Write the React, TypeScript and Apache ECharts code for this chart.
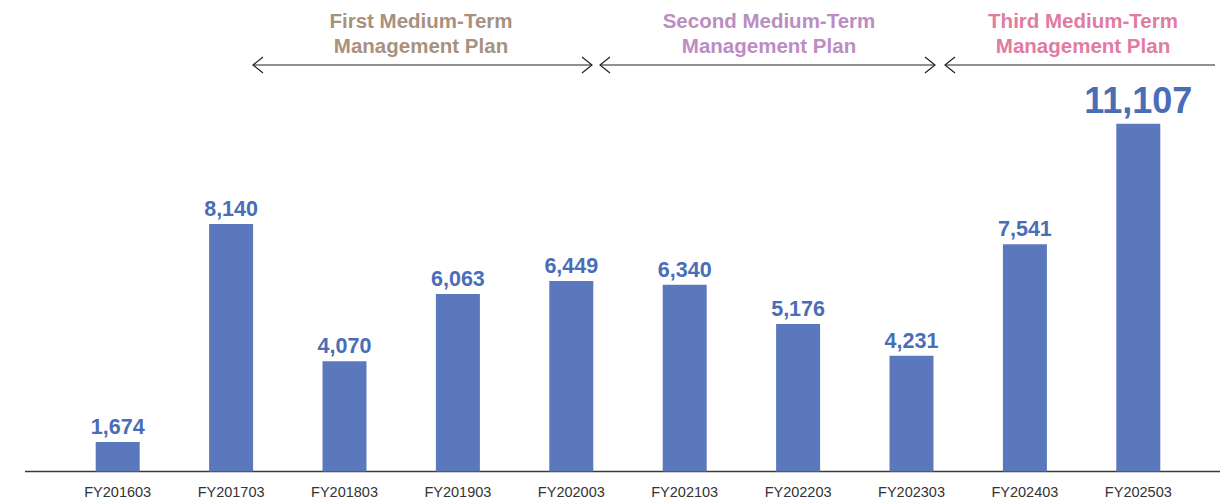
import React, { useEffect, useRef } from "react";
import * as echarts from "echarts";

const categories = ["FY201603", "FY201703", "FY201803", "FY201903", "FY202003", "FY202103", "FY202203", "FY202303", "FY202403", "FY202503"];
const values = [1674, 8140, 4070, 6063, 6449, 6340, 5176, 4231, 7541, 11107];
const planNames = ["First Medium-Term\nManagement Plan", "Second Medium-Term\nManagement Plan", "Third Medium-Term\nManagement Plan"];
const planColors = ["#a8917d", "#bb8dc2", "#e07ba2"];

const FONT = "'Liberation Sans', Arial, Helvetica, sans-serif";

function arrow(x1: number, x2: number, y: number, leftHead: boolean, rightHead: boolean) {
  const els: any[] = [
    { type: "line", shape: { x1, y1: y, x2, y2: y }, style: { stroke: "#222", lineWidth: 1.2 } },
  ];
  if (leftHead)
    els.push({ type: "polyline", shape: { points: [[x1 + 10, y - 8], [x1, y], [x1 + 10, y + 8]] }, style: { stroke: "#222", lineWidth: 1.2, fill: "none" } });
  if (rightHead)
    els.push({ type: "polyline", shape: { points: [[x2 - 10, y - 8], [x2, y], [x2 - 10, y + 8]] }, style: { stroke: "#222", lineWidth: 1.2, fill: "none" } });
  return els;
}

export default function App() {
  const ref = useRef<HTMLDivElement>(null);
  useEffect(() => {
    if (!ref.current) return;
    const chart = echarts.init(ref.current, undefined, { renderer: "svg" });
    const last = values.length - 1;
    const planCenters = [421, 769, 1083];
    chart.setOption({
      animation: false,
      grid: { left: 61, right: 33, top: 60, bottom: 28.5 },
      xAxis: {
        type: "category",
        data: categories,
        axisLine: { show: false },
        axisTick: { show: false },
        axisLabel: { color: "#333", fontSize: 14.5, fontFamily: FONT, margin: 13 },
      },
      yAxis: { type: "value", min: 800, max: 13000, show: false, splitLine: { show: false } },
      series: [
        {
          type: "bar",
          barWidth: 44,
          data: values.map((v, i) =>
            i === last ? { value: v, label: { fontSize: 36, distance: 5 } } : v
          ),
          itemStyle: { color: "#5b78bd" },
          label: {
            show: true,
            position: "top",
            distance: 4,
            color: "#4a6db8",
            fontWeight: "bold",
            fontSize: 21.5,
            fontFamily: FONT,
            formatter: (p: any) => Number(p.value).toLocaleString("en-US"),
          },
        },
      ],
      graphic: [
        { type: "line", shape: { x1: 25, y1: 471.5, x2: 1228, y2: 471.5 }, style: { stroke: "#3a3a3a", lineWidth: 1.5 } },
        ...planNames.map((t, i) => ({
          type: "text",
          x: planCenters[i],
          y: 33,
          style: {
            text: t,
            fill: planColors[i],
            font: `bold 20.5px ${FONT}`,
            textAlign: "center",
            textVerticalAlign: "middle",
            lineHeight: 25,
          },
        })),
        ...arrow(253, 592, 65, true, true),
        ...arrow(600, 935, 65, true, true),
        ...arrow(945, 1215, 65, true, false),
      ],
    });
    return () => chart.dispose();
  }, []);
  return <div ref={ref} style={{ width: 1228, height: 500, marginLeft: -8, marginTop: -8 }} />;
}
